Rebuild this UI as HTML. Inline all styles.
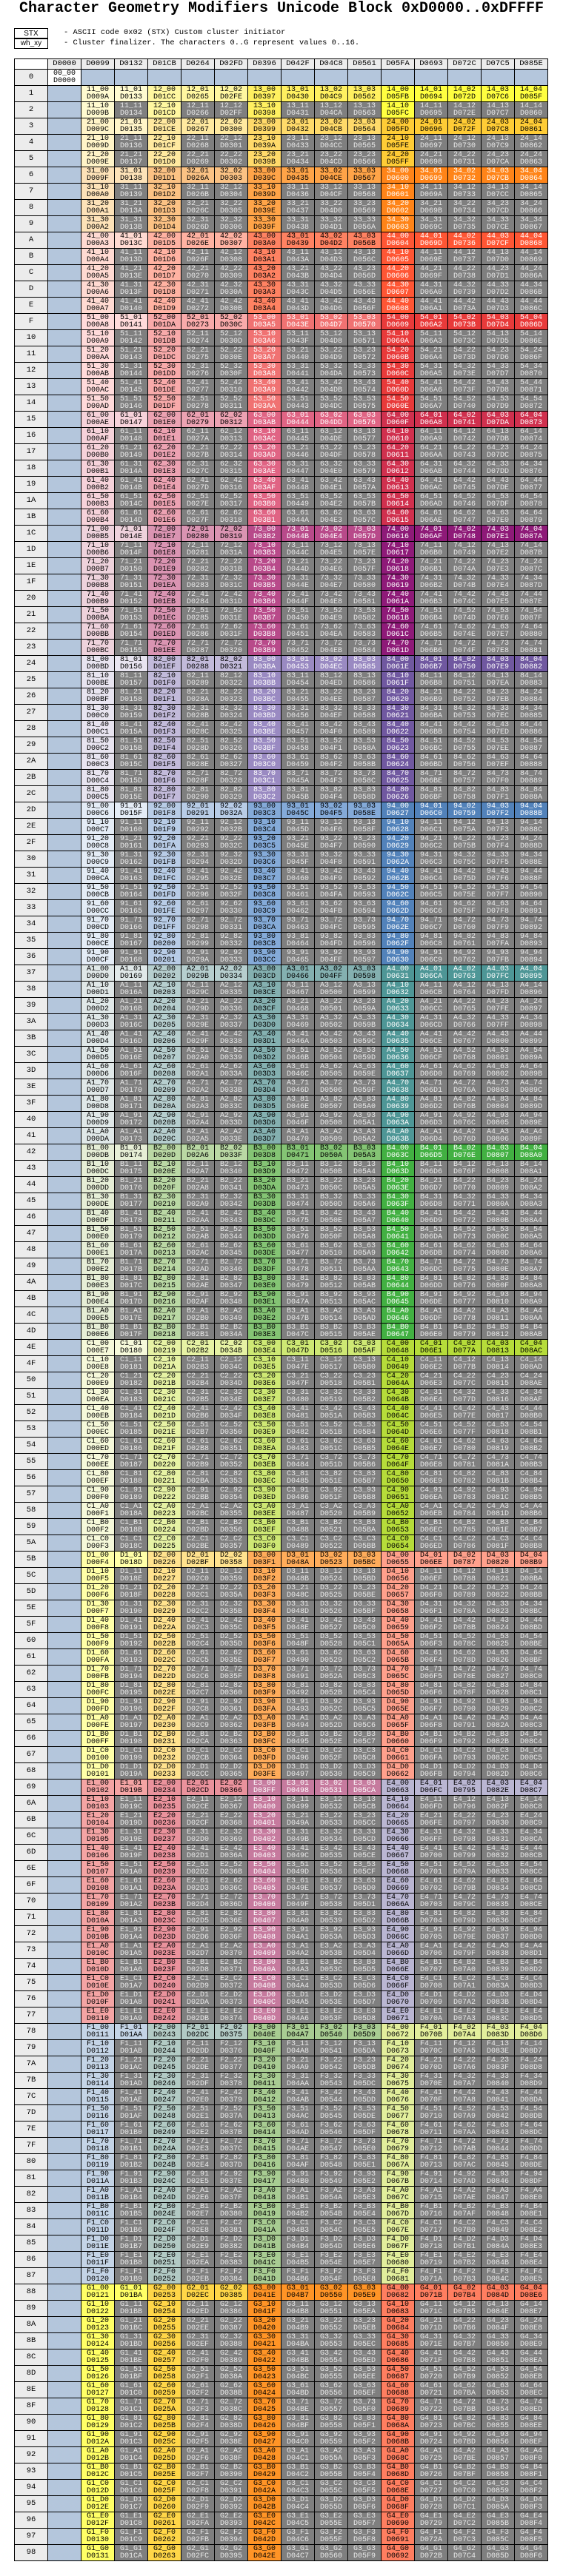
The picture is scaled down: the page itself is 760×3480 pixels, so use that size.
<!DOCTYPE html>
<html><head><meta charset="utf-8">
<style>
html,body{margin:0;padding:0;background:#fff;width:760px;height:3480px;overflow:hidden}
body{position:relative;font-family:"Liberation Mono",monospace}
#title{position:absolute;left:0;top:1px;width:760px;text-align:center;font-family:"Liberation Mono",monospace;font-weight:bold;font-size:20px;line-height:22px;color:#000;white-space:nowrap}
.lg{position:absolute;left:19px;width:44px;height:13px;border:1px solid #000;text-align:center;font-size:10px;line-height:13px;font-family:"Liberation Sans",sans-serif}
.lt{position:absolute;left:86px;font-size:10.4px;line-height:13px;white-space:nowrap}
#grid{position:absolute;left:19px;top:79px;width:721px;height:3381px;background:#000}
.c{position:absolute;width:44px;height:21px;text-align:center;font-size:10px;line-height:10px;overflow:hidden;white-space:nowrap;letter-spacing:0}
.c span{display:block;padding-top:0.5px}
.h{position:absolute;width:44px;height:13px;background:#ececec;text-align:center;font-size:10.5px;line-height:13px}
.rl{position:absolute;left:1px;width:44px;height:21px;background:#ececec;text-align:center;font-size:10.5px;line-height:21px}
</style></head>
<body>
<div id="title">Character Geometry Modifiers Unicode Block 0xD0000..0xDFFFF</div>
<div class="lg" style="top:38px">STX</div>
<div class="lg" style="top:51px;height:13px">wh_xy</div>
<div class="lt" style="top:38px">- ASCII code 0x02 (STX) Custom cluster initiator</div>
<div class="lt" style="top:52px">- Cluster finalizer. The characters 0..G represent values 0..16.</div>
<div id="grid"></div>
<script>
// palette per row-group a (1..16), column-group c (1..4)
const groupColorsC1 = ["#fffbd0","#fff4c8","#fde2b8","#ffdad2","#ffdada","#f6d2da","#eed2dc","#e8e4f0","#e4ecf6","#e0e8e8","#e6eed6","#f6f9da","#ffffa8","#f4a4a4","#c4d4e6","#ffff66"];
const groupColorsC2 = ["#fff7a0","#ffe9a0","#fbc284","#ffb2a2","#f8aaaa","#eca2b2","#da94b2","#c2bada","#b8cce6","#b6cece","#bad8a4","#e6f2a4","#ffe28e","#ea929c","#b2cac4","#ffd648"];
const groupColorsC3 = ["#fff060","#ffda6a","#ffa448","#ff8262","#f07272","#e06484","#b84a8a","#9a8ac2","#84aad8","#84b0b0","#84c474","#cee874","#ffac5a","#c67a9e","#a8cc92","#ff9426"];
const groupColorsC4 = ["#ffff40","#ffcc36","#ff8418","#ff5634","#e83a3a","#d0304e","#8e1a78","#7058a0","#5282ba","#4e9696","#42b042","#b6dc3a","#ffa08c","#bab6d2","#e2ee9c","#ff7e60"];
const digits = "0123456789ABCDEFG".split("");
const colStep = 0x99;
const numCols = 14;
const maxA = 16;

const grid = document.getElementById('grid');
const W = 45, H = 22, HEAD = 14;
function lum(hex){const r=parseInt(hex.substr(1,2),16),g=parseInt(hex.substr(3,2),16),b=parseInt(hex.substr(5,2),16);return 0.299*r+0.587*g+0.114*b;}
function hex4(n){return n.toString(16).toUpperCase().padStart(4,'0');}

// column descriptors
const cols=[];
for(let c=1;c<=4;c++)for(let x=0;x<=c;x++)cols.push({c,x});
const rows=[];
for(let a=1;a<=maxA;a++)for(let y=0;y<=a;y++)rows.push({a,y});

// header
const corner=document.createElement('div');
corner.className='h';corner.style.left='1px';corner.style.top='1px';corner.style.background='#fff';


grid.appendChild(corner);
for(let k=0;k<=numCols;k++){
  const h=document.createElement('div');
  h.className='h';h.style.left=(1+W*(k+1))+'px';h.style.top='1px';
  h.textContent='D'+hex4(k*colStep);
  
  
  grid.appendChild(h);
}
for(let r=0;r<=rows.length;r++){
  const top=HEAD+1+H*r;
  const rl=document.createElement('div');
  rl.className='rl';rl.style.top=top+'px';rl.textContent=r.toString(16).toUpperCase();
  
  
  grid.appendChild(rl);
  for(let k=0;k<=numCols;k++){
    const d=document.createElement('div');
    d.className='c';d.style.left=(1+W*(k+1))+'px';d.style.top=top+'px';
    let bg='#b4c6dc',fg='#000',txt=null;
    if(r===0&&k===0){bg='#fff';txt=['00_00','D0000'];}
    else if(r>0&&k>0){
      const R=rows[r-1],C=cols[k-1];
      txt=[digits[R.a]+digits[C.c]+'_'+digits[R.y]+digits[C.x],'D'+hex4(k*colStep+r)];
      if(R.x!==undefined){}
      if(R.y>0&&C.x>0){bg='#7f7f7f';fg='#eaeaea';}
      else{
        const pal=[groupColorsC1,groupColorsC2,groupColorsC3,groupColorsC4][C.c-1];
        bg=pal[R.a-1];fg=lum(bg)<160?'#fff':'#000';
      }
    }
    d.style.background=bg;d.style.color=fg;
    if(txt){d.innerHTML='<span>'+txt[0]+'</span><span>'+txt[1]+'</span>';}
    
    
    grid.appendChild(d);
  }
}
</script>
</body></html>
